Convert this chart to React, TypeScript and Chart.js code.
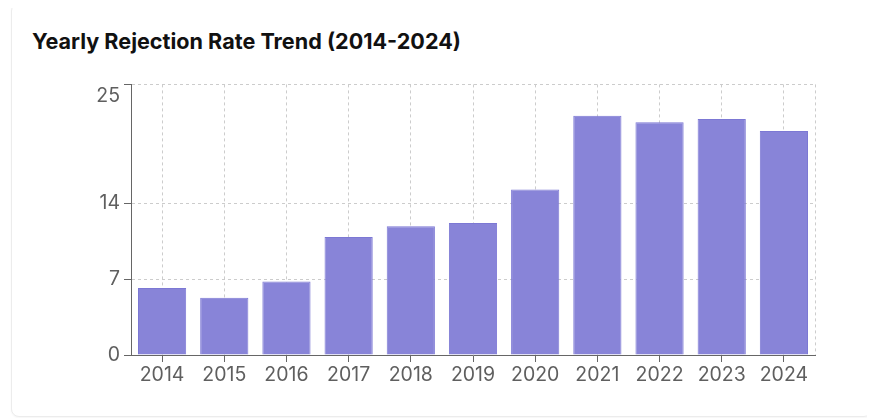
import React, { useEffect, useRef } from 'react';
import { Chart, registerables } from 'chart.js';

Chart.register(...registerables);

const chartTitle = 'Yearly Rejection Rate Trend (2014-2024)';
const years = ['2014', '2015', '2016', '2017', '2018', '2019', '2020', '2021', '2022', '2023', '2024'];
const rejectionRate = [6.2, 5.3, 6.8, 10.9, 11.9, 12.2, 15.3, 22.1, 21.5, 21.8, 20.7];
const yTickValues = [0, 7, 14, 25];

const FONT = 'Inter, "Noto Sans", sans-serif';

const rightBorderPlugin = {
  id: 'rightBorder',
  beforeDatasetsDraw(chart: any) {
    const { ctx, chartArea } = chart;
    ctx.save();
    ctx.strokeStyle = '#cccccc';
    ctx.lineWidth = 1;
    ctx.setLineDash([3, 3]);
    ctx.beginPath();
    ctx.moveTo(Math.round(chartArea.right) + 0.5, chartArea.top);
    ctx.lineTo(Math.round(chartArea.right) + 0.5, chartArea.bottom);
    ctx.stroke();
    ctx.restore();
  },
};

export default function App() {
  const canvasRef = useRef<HTMLCanvasElement | null>(null);

  useEffect(() => {
    if (!canvasRef.current) return;
    const chart = new Chart(canvasRef.current, {
      type: 'bar',
      data: {
        labels: years,
        datasets: [
          {
            label: 'Rejection Rate',
            data: rejectionRate,
            backgroundColor: '#8884d8',
            borderColor: '#7c78d4',
            borderWidth: 1,
            barPercentage: 1,
            categoryPercentage: 0.775,
          },
        ],
      },
      options: {
        animation: false,
        responsive: false,
        maintainAspectRatio: false,
        layout: { padding: { left: 0, right: 26, top: 13, bottom: 16 } },
        plugins: {
          legend: { display: false },
          tooltip: { enabled: false },
          title: { display: false },
        },
        scales: {
          x: {
            offset: true,
            grid: {
              offset: false,
              color: '#cccccc',
              drawTicks: true,
              tickLength: 7,
              tickColor: '#666666',
              tickBorderDash: [],
            },
            border: { display: true, color: '#666666', width: 1, dash: [3, 3] },
            ticks: {
              color: '#5f5f5f',
              font: { family: FONT, size: 19.5 },
              padding: 1,
              maxRotation: 0,
            },
            afterFit(scale: any) {
              scale.height = 40;
            },
          },
          y: {
            min: 0,
            max: 25,
            grid: {
              color: '#cccccc',
              drawTicks: true,
              tickLength: 7,
              tickColor: '#666666',
              tickBorderDash: [],
            },
            border: { display: true, color: '#666666', width: 1, dash: [3, 3] },
            afterBuildTicks(scale: any) {
              scale.ticks = yTickValues.map((v) => ({ value: v }));
            },
            ticks: {
              color: '#5f5f5f',
              font: { family: FONT, size: 19.5 },
              padding: 4,
              callback: (value: any) => (value === 25 ? ['', String(value)] : String(value)),
            },
            afterFit(scale: any) {
              scale.width = 70;
            },
          },
        },
      },
      plugins: [rightBorderPlugin],
    });
    return () => chart.destroy();
  }, []);

  return (
    <div style={{ position: 'relative', width: 875, height: 418 }}>
      <div
        style={{
          position: 'absolute',
          left: 11 - 8,
          top: 3 - 8,
          width: 861,
          height: 414,
          boxSizing: 'border-box',
          border: '1px solid #ececec',
          borderRadius: 8,
          background: '#ffffff',
          boxShadow: '0 1px 2px rgba(0,0,0,0.04)',
        }}
      >
        <div
          style={{
            position: 'absolute',
            left: 20,
            top: 24,
            fontFamily: FONT,
            fontWeight: 700,
            fontSize: 21.6,
            lineHeight: '26px',
            color: '#111111',
            whiteSpace: 'nowrap',
          }}
        >
          {chartTitle}
        </div>
        <canvas
          ref={canvasRef}
          width={780}
          height={354}
          style={{ position: 'absolute', left: 49, top: 53, width: 780, height: 354 }}
        />
      </div>
    </div>
  );
}
